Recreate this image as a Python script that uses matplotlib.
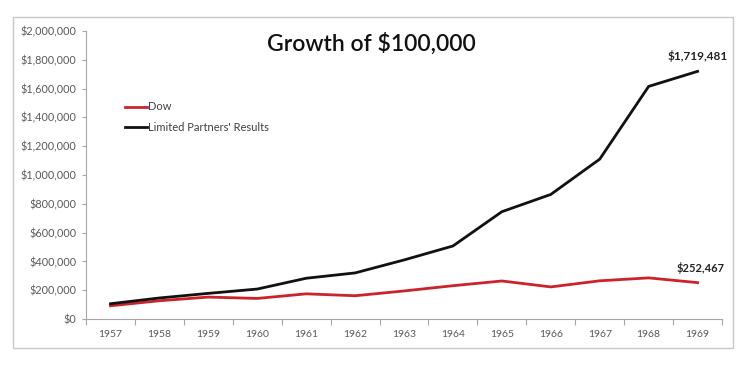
import matplotlib
matplotlib.use('Agg')
from matplotlib import pyplot as plt
from matplotlib.patches import Rectangle
from matplotlib.ticker import FuncFormatter
import numpy as np

plt.rcParams['font.family'] = ['Lato', 'DejaVu Sans']

years = ['1957', '1958', '1959', '1960', '1961', '1962', '1963',
         '1964', '1965', '1966', '1967', '1968', '1969']
dow = [91600, 126866, 152239, 142800, 174787, 161503, 194773,
       231196, 264026, 222838, 265177, 285596, 252467]
partners = [106000, 146000, 178000, 208000, 283000, 320000, 410000,
            507000, 745000, 865000, 1110000, 1615000, 1719481]

fig = plt.figure(figsize=(7.5, 3.66), dpi=100)
ax = fig.add_axes([0.1147, 0.1284, 0.848, 0.787])

# outer chart frame, Excel style
fig.patches.append(Rectangle((13 / 750, 1 - 348 / 366), 720 / 750, 331 / 366,
                             transform=fig.transFigure, fill=False,
                             edgecolor='#c8c8c8', linewidth=1))

x = np.arange(len(years))
ax.plot(x, dow, color='#cc2229', linewidth=2, label='Dow')
ax.plot(x, partners, color='#111111', linewidth=2, label="Limited Partners' Results")

ax.set_xlim(-0.5, len(years) - 0.5)
ax.set_ylim(0, 2000000)
ax.set_yticks(np.arange(0, 2000001, 200000))
ax.yaxis.set_major_formatter(FuncFormatter(lambda v, p: '${:,.0f}'.format(v)))
ax.set_xticks(x)
ax.set_xticklabels(years)
ax.set_xticks(np.arange(-0.5, len(years), 1), minor=True)

for s in ['top', 'right']:
    ax.spines[s].set_visible(False)
for s in ['left', 'bottom']:
    ax.spines[s].set_color('#a6a6a6')
    ax.spines[s].set_linewidth(0.8)

ax.tick_params(axis='y', colors='#a6a6a6', labelcolor='#595959',
               labelsize=7.8, length=3, width=0.8, pad=4)
ax.tick_params(axis='x', which='major', length=0, labelcolor='#595959',
               labelsize=7.5, pad=8)
ax.tick_params(axis='x', which='minor', length=4, width=0.8, colors='#a6a6a6')

ax.annotate('${:,.0f}'.format(partners[-1]), (x[-1], partners[-1]),
            xytext=(0, 8), textcoords='offset points', ha='center',
            fontsize=8.5, fontweight='bold', color='#222222')
ax.annotate('${:,.0f}'.format(dow[-1]), (x[-1], dow[-1]),
            xytext=(2, 8), textcoords='offset points', ha='center',
            fontsize=8, fontweight='bold', color='#222222')

fig.text(0.495, 0.88, 'Growth of $100,000', ha='center', va='center',
         fontsize=16.5, fontweight='semibold', color='#111111')

ax.legend(loc='upper left', bbox_to_anchor=(0.045, 0.79), frameon=False,
          fontsize=8, handlelength=2.0, handletextpad=0.1,
          labelspacing=0.85, labelcolor='#404040')

fig.savefig('out.png', dpi=100)
